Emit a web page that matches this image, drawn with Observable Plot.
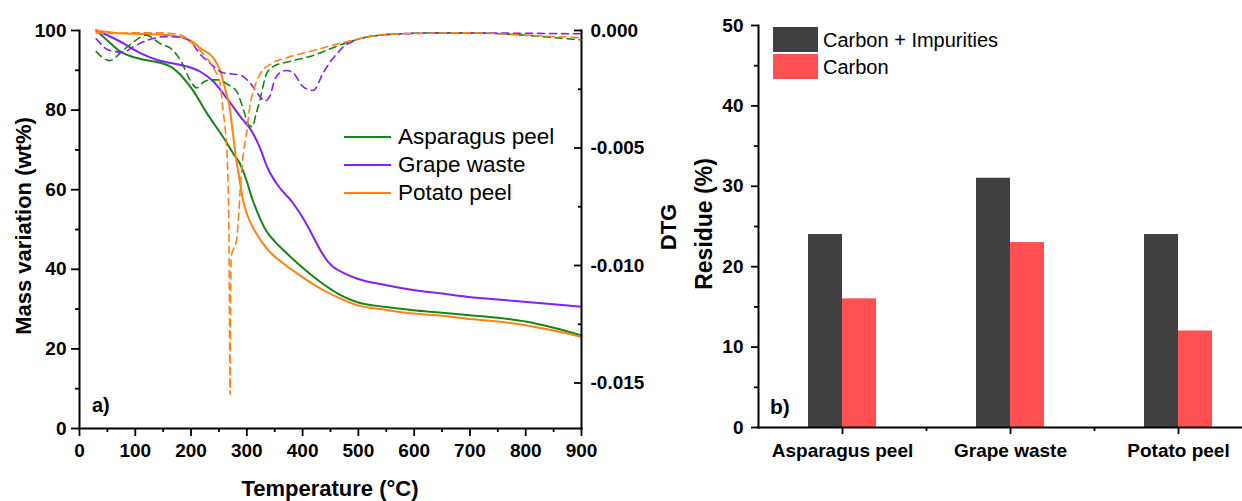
<!DOCTYPE html>
<html>
<head>
<meta charset="utf-8">
<script src="https://cdn.jsdelivr.net/npm/d3@7"></script>
<script src="https://cdn.jsdelivr.net/npm/@observablehq/plot@0.6"></script>
<style>
  html, body { margin: 0; padding: 0; background: #fff; }
  #wrap { position: relative; width: 1242px; height: 501px; overflow: hidden; background: #fff; }
  .layer { position: absolute; top: 0; }
  #ann { position: absolute; left: 0; top: 0; pointer-events: none; }
  #ann text { font-family: "Liberation Sans", Arial, sans-serif; fill: #000; }
</style>
</head>
<body>
<div id="wrap">
  <div id="pa" class="layer" style="left:0"></div>
  <div id="pb" class="layer" style="left:0"></div>
  <div id="pc" class="layer" style="left:640px"></div>
  <svg id="ann" width="1242" height="501"></svg>
</div>
<script>
// ---------- Data ----------
// TGA mass curves: [temperature °C, mass %]
const asparagusMass = [[30,100],[50,97.5],[72,94.8],[108,92.9],[144,91.9],[165,90.8],[180,89],[195,86.5],[203,85],[228,79.3],[264,71.8],[275,69.2],[287,66.7],[299,62.5],[310,57.6],[323,53],[335,49.6],[350,47.0],[365,44.9],[380,42.9],[395,41.0],[430,37.0],[467,33.6],[497,31.8],[550,30.5],[598,29.7],[650,29.1],[694,28.5],[750,27.8],[802,26.8],[850,25.3],[900,23.4]];
const grapeMass = [[30,100],[50,98.8],[72,97.3],[108,94.4],[144,92.4],[180,91.4],[216,89.7],[240,87.2],[264,83],[288,78.4],[311,74.2],[325,70],[336,65.8],[353,61.6],[383,56.6],[400,53],[419,48.2],[431,45],[445,42],[455,40.6],[475,39],[497,37.7],[550,36],[598,34.8],[650,33.9],[694,33.1],[750,32.4],[802,31.8],[850,31.2],[900,30.6]];
const potatoMass = [[30,100],[72,99.3],[144,99.0],[186,98.2],[205,97],[216,95.6],[240,93.1],[252,90],[263,84.3],[269,80.9],[275,74.2],[281,67.5],[287,62.5],[293,57.4],[302,53.2],[317,49],[335,45.3],[365,41.5],[395,38.5],[430,35.3],[467,32.7],[497,31.0],[550,29.8],[598,28.9],[650,28.3],[694,27.6],[750,26.9],[802,25.9],[850,24.6],[900,23]];

// DTG curves: [temperature °C, DTG]
const asparagusDTG = [[30,-0.0009],[54,-0.00128],[78,-0.00085],[96,-0.0005],[120,-0.0002],[144,-0.00055],[168,-0.00085],[183,-0.00135],[198,-0.0021],[210,-0.00244],[222,-0.0022],[234,-0.0021],[250,-0.0021],[264,-0.00227],[282,-0.0026],[293,-0.0033],[303,-0.004],[310,-0.0041],[316,-0.0036],[323,-0.003],[336,-0.0018],[350,-0.0015],[371,-0.00135],[419,-0.00106],[467,-0.00062],[515,-0.00028],[575,-0.00014],[640,-0.0001],[695,-0.0001],[785,-0.00018],[850,-0.0003],[900,-0.0004]];
const grapeDTG = [[30,-0.00035],[54,-0.00085],[78,-0.00092],[96,-0.0007],[120,-0.00043],[156,-0.00026],[180,-0.00028],[200,-0.0005],[216,-0.001],[234,-0.0014],[257,-0.0018],[288,-0.0019],[308,-0.0023],[323,-0.0028],[332,-0.003],[341,-0.0028],[350,-0.0021],[359,-0.0018],[371,-0.0017],[383,-0.0018],[401,-0.0024],[419,-0.00255],[437,-0.0018],[449,-0.00135],[461,-0.001],[473,-0.0007],[491,-0.00045],[515,-0.00028],[575,-0.00014],[700,-0.0001],[800,-0.00012],[900,-0.00014]];
const potatoDTG = [[30,-0.0001],[60,-0.00012],[100,-0.0001],[144,-0.0001],[180,-0.00018],[203,-0.00057],[222,-0.001],[240,-0.0016],[252,-0.00226],[257,-0.0033],[262,-0.0044],[265,-0.0055],[268,-0.009],[270,-0.0155],[271,-0.0115],[272,-0.0096],[276,-0.0093],[281,-0.009],[285,-0.008],[288,-0.0068],[293,-0.0054],[300,-0.0043],[305,-0.0033],[314,-0.0024],[325,-0.0018],[345,-0.0014],[373,-0.00115],[419,-0.00085],[467,-0.00055],[515,-0.00028],[575,-0.00014],[700,-0.0001],[800,-0.0002],[900,-0.00031]];

// Residue bars
const residueCategories = ["Asparagus peel", "Grape waste", "Potato peel"];
const carbonImpurities = [24, 31, 24];
const carbonOnly = [16, 23, 12];

// Tick values
const tempTicks = [0,100,200,300,400,500,600,700,800,900];
const massTicks = [0,20,40,60,80,100];
const dtgTicks = [0,-0.005,-0.010,-0.015];
const residueTicks = [0,10,20,30,40,50];

const seriesNames = ["Asparagus peel", "Grape waste", "Potato peel"];
const seriesColors = ["#168516", "#8420f5", "#ff8212"];
const barNames = ["Carbon + Impurities", "Carbon"];
const barColors = ["#404040", "#ff5052"];

// ---------- Shared style ----------
const FONT = "'Liberation Sans', Arial, sans-serif";
const baseStyle = {fontFamily: FONT, fontSize: "19px", fontWeight: "bold", color: "#000",
  background: "none", overflow: "visible", maxWidth: "none"};
const mid = (a) => a.slice(0, -1).map((v, i) => (v + a[i + 1]) / 2);

// ---------- Panel a: mass ----------
const W = 640, H = 501, mL = 79, mR = 59, mT = 30, mB = 73;
const pa = Plot.plot({
  width: W, height: H, marginLeft: mL, marginRight: mR, marginTop: mT, marginBottom: mB,
  style: baseStyle,
  x: {domain: [0, 900], label: null},
  y: {domain: [0, 100], label: null},
  marks: [
    Plot.axisX({ticks: tempTicks, tickSize: 8, tickPadding: 7, strokeWidth: 1.8, tickFormat: d => String(d)}),
    Plot.axisX({ticks: mid(tempTicks), tickSize: 4, strokeWidth: 1.8, tickFormat: () => ""}),
    Plot.axisY({ticks: massTicks, tickSize: 8, tickPadding: 5, strokeWidth: 1.8, tickFormat: d => String(d)}),
    Plot.axisY({ticks: mid(massTicks), tickSize: 4, strokeWidth: 1.8, tickFormat: () => ""}),
    Plot.frame({anchor: "left", strokeWidth: 2}),
    Plot.frame({anchor: "bottom", strokeWidth: 2}),
    Plot.line(asparagusMass, {stroke: seriesColors[0], strokeWidth: 2, curve: "monotone-x"}),
    Plot.line(grapeMass, {stroke: seriesColors[1], strokeWidth: 2, curve: "monotone-x"}),
    Plot.line(potatoMass, {stroke: seriesColors[2], strokeWidth: 2, curve: "monotone-x"})
  ]
});
document.getElementById("pa").appendChild(pa);

// ---------- Panel a: DTG overlay ----------
const dtgBottom = -0.005 * (H - mB - mT) / 117.5;
const pb = Plot.plot({
  width: 720, height: H, marginLeft: mL, marginRight: 720 - (W - mR), marginTop: mT, marginBottom: mB,
  style: baseStyle,
  x: {domain: [0, 900], axis: null, label: null},
  y: {domain: [dtgBottom, 0], label: null},
  marks: [
    Plot.axisY({anchor: "right", ticks: dtgTicks, tickSize: 8, dx: -8, strokeWidth: 1.8, tickFormat: () => ""}),
    Plot.axisY({anchor: "right", ticks: mid(dtgTicks), tickSize: 4, dx: -4, strokeWidth: 1.8, tickFormat: () => ""}),
    Plot.axisY({anchor: "right", ticks: dtgTicks, tickSize: 0, tickPadding: 9, tickFormat: d => d.toFixed(3)}),
    Plot.frame({anchor: "right", strokeWidth: 2}),
    Plot.line(asparagusDTG, {stroke: seriesColors[0], strokeWidth: 1.6, strokeDasharray: "7,5", curve: "monotone-x"}),
    Plot.line(grapeDTG, {stroke: seriesColors[1], strokeWidth: 1.6, strokeDasharray: "7,5", curve: "monotone-x"}),
    Plot.line(potatoDTG, {stroke: seriesColors[2], strokeWidth: 1.6, strokeDasharray: "7,5", curve: "monotone-x"})
  ]
});
document.getElementById("pb").appendChild(pb);

// ---------- Panel b: residue bars ----------
const cL = 118, cW = 622, step = (cW - cL) / residueCategories.length, half = step / 2, barW = 34;
const barRows = residueCategories.map((c, i) => ({cat: c, ci: carbonImpurities[i], c: carbonOnly[i]}));
const pc = Plot.plot({
  width: cW, height: H, marginLeft: cL, marginRight: 0, marginTop: 25, marginBottom: 74,
  style: baseStyle,
  x: {domain: residueCategories, padding: 0, label: null},
  y: {domain: [0, 50], label: null},
  marks: [
    Plot.barY(barRows, {x: "cat", y: "ci", fill: barColors[0], insetLeft: half - barW, insetRight: half}),
    Plot.barY(barRows, {x: "cat", y: "c", fill: barColors[1], insetLeft: half, insetRight: half - barW}),
    Plot.axisX({tickSize: 7, tickPadding: 9, strokeWidth: 1.8}),
    Plot.axisX({tickSize: 4, dx: half, strokeWidth: 1.8, tickFormat: () => ""}),
    Plot.axisY({ticks: residueTicks, tickSize: 7, tickPadding: 8, strokeWidth: 1.8, tickFormat: d => String(d)}),
    Plot.axisY({ticks: mid(residueTicks), tickSize: 4, strokeWidth: 1.8, tickFormat: () => ""}),
    Plot.frame({anchor: "left", strokeWidth: 2}),
    Plot.frame({anchor: "bottom", strokeWidth: 2})
  ]
});
document.getElementById("pc").appendChild(pc);

// ---------- Titles, panel labels and legends ----------
const ann = d3.select("#ann");
function txt(str, x, y, size, weight, rotate) {
  const t = ann.append("text").text(str).attr("font-size", size).attr("font-weight", weight);
  if (rotate) t.attr("transform", `translate(${x},${y}) rotate(-90)`).attr("text-anchor", "middle");
  else t.attr("x", x).attr("y", y);
  return t;
}
txt("Temperature (°C)", 330, 496, 22, "bold").attr("text-anchor", "middle");
txt("Mass variation (wt%)", 31, 226, 22, "bold", true);
txt("DTG", 676, 227, 22, "bold", true);
txt("Residue (%)", 712, 224, 23, "bold", true);
txt("a)", 92, 412, 20, "bold");
txt("b)", 770, 414, 21, "bold");

// line legend
seriesNames.forEach((name, i) => {
  const y = 137 + i * 28;
  ann.append("line").attr("x1", 344).attr("x2", 391).attr("y1", y).attr("y2", y)
    .attr("stroke", seriesColors[i]).attr("stroke-width", 2);
  txt(name, 398, y + 7, 22.5, "normal");
});
// bar legend
barNames.forEach((name, i) => {
  const y = 27 + i * 27;
  ann.append("rect").attr("x", 773).attr("y", y).attr("width", 45).attr("height", 25).attr("fill", barColors[i]);
  txt(name, 823, y + 20, 20, "normal");
});
</script>
</body>
</html>
